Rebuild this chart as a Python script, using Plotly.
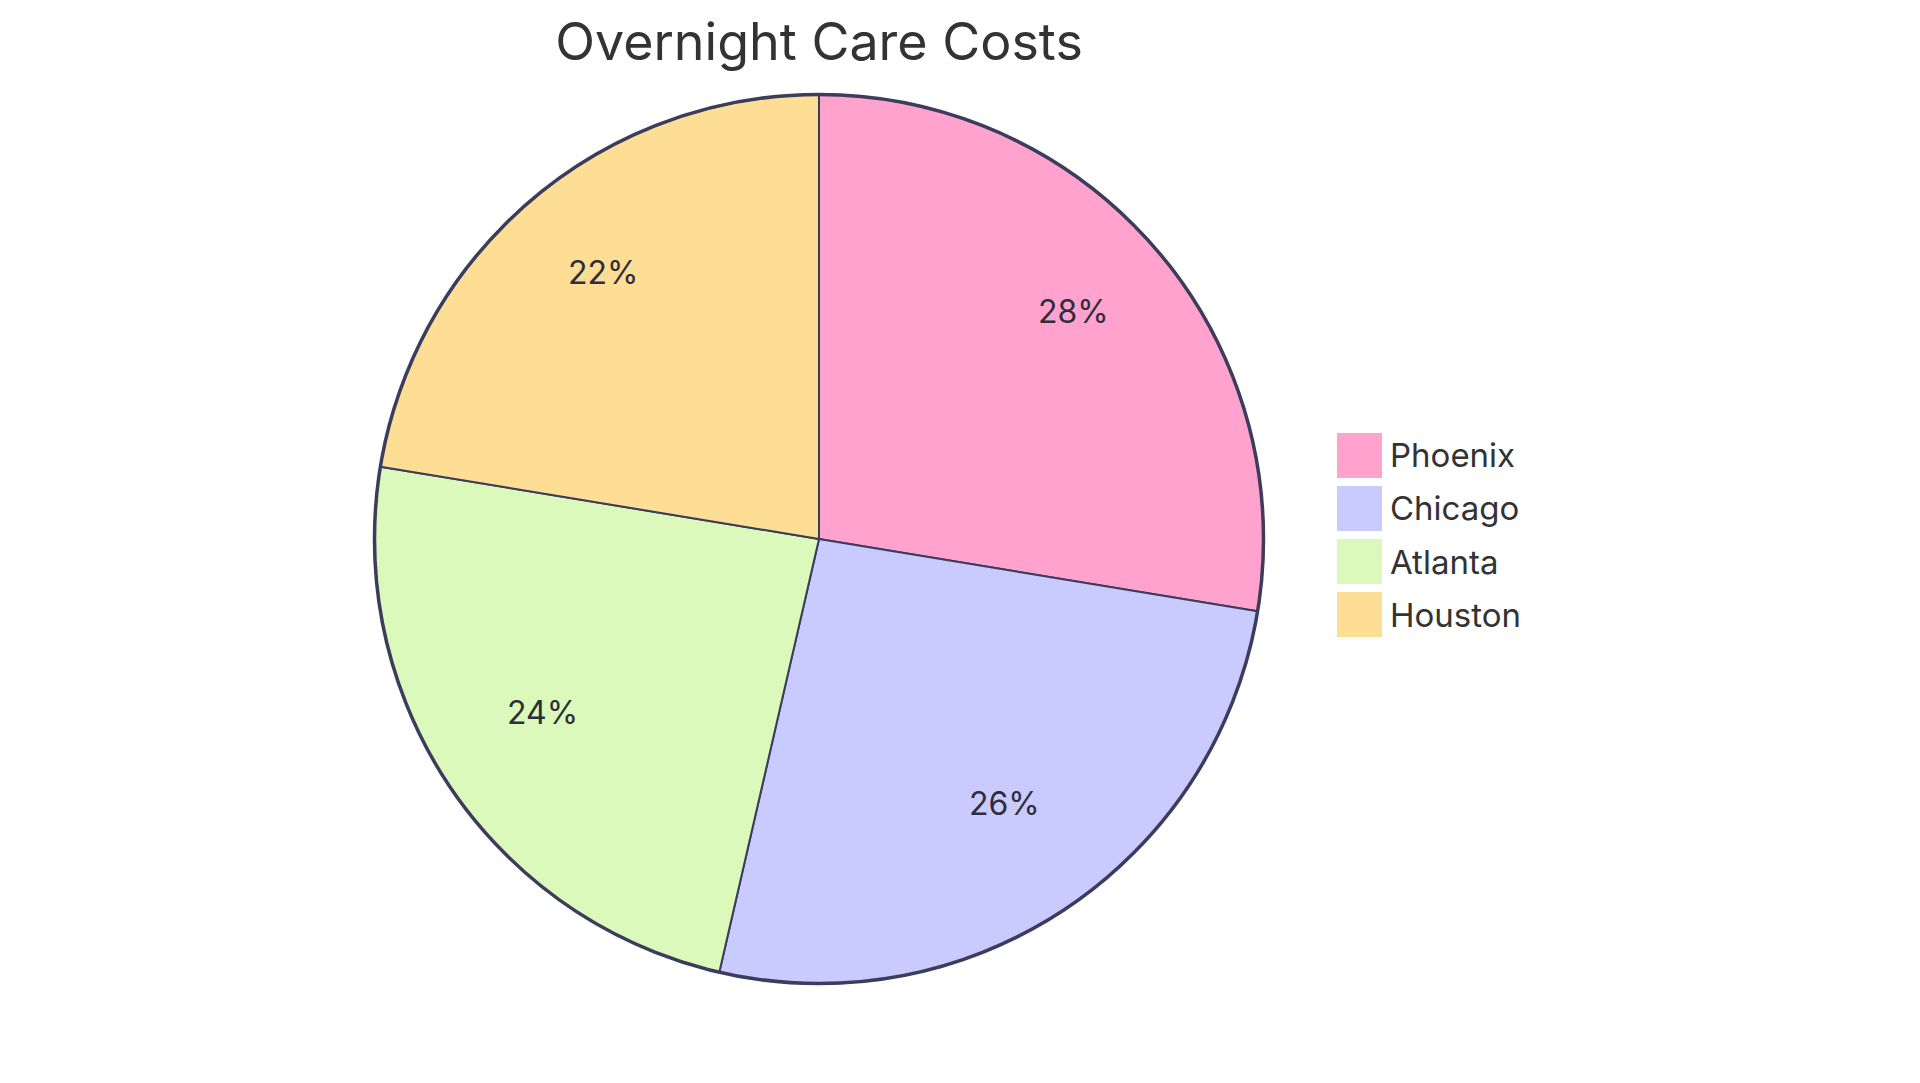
import math
import plotly.graph_objects as go

# ---- data ----
cities = ["Phoenix", "Chicago", "Atlanta", "Houston"]
costs = [1380, 1300, 1200, 1120]
colors = ["#FFA3CE", "#C9CBFF", "#DAF9BA", "#FEDD95"]
title_text = "Overnight Care Costs"

# ---- layout geometry (pixels, page coords minus body margin) ----
W, H = 1920, 1083
OFF = 8
cx, cy, R = 819 - OFF, 539 - OFF, 444.5
FONT = "Inter, Noto Sans, sans-serif"
EDGE = "#3C3C5C"

fig = go.Figure()
fig.add_trace(go.Pie(
    labels=cities,
    values=costs,
    sort=False,
    direction="clockwise",
    rotation=0,
    marker=dict(colors=colors, line=dict(color=EDGE, width=2)),
    textinfo="none",
    hoverinfo="label+value+percent",
    showlegend=False,
    domain=dict(x=[(cx - R) / W, (cx + R) / W], y=[1 - (cy + R) / H, 1 - (cy - R) / H]),
))

# outer rim
fig.add_shape(type="circle", xref="paper", yref="paper",
              x0=(cx - R) / W, x1=(cx + R) / W,
              y0=1 - (cy + R) / H, y1=1 - (cy - R) / H,
              line=dict(color=EDGE, width=3.5), fillcolor="rgba(0,0,0,0)")

# slice percentage labels at 0.75 R
total = sum(costs)
cum = 0
for v in costs:
    mid = (cum + v / 2) / total * 2 * math.pi
    cum += v
    px = cx + 0.75 * R * math.sin(mid)
    py = cy - 0.75 * R * math.cos(mid) - 12
    fig.add_annotation(x=px / W, y=1 - py / H, xref="paper", yref="paper",
                       text=f"{round(v / total * 100)}%", showarrow=False,
                       xanchor="center", yanchor="middle",
                       font=dict(family=FONT, size=32, color="#2E2E3A"))

# legend (drawn manually: large squares)
lx0, sq, top0, step = 1337 - OFF, 45, 433 - OFF, 53
for i, (name, col) in enumerate(zip(cities, colors)):
    t = top0 + i * step
    fig.add_shape(type="rect", xref="paper", yref="paper",
                  x0=lx0 / W, x1=(lx0 + sq) / W,
                  y0=1 - (t + sq) / H, y1=1 - t / H,
                  line=dict(width=0), fillcolor=col)
    fig.add_annotation(x=(1388 - OFF) / W, y=1 - (t + sq / 2) / H, xref="paper", yref="paper",
                       text=name, showarrow=False, xanchor="left", yanchor="middle",
                       font=dict(family=FONT, size=33, color="#333333"))

fig.update_layout(
    width=W, height=H,
    margin=dict(l=0, r=0, t=0, b=0),
    paper_bgcolor="white", plot_bgcolor="white",
    title=dict(text=title_text, x=cx / W, xanchor="center", y=1 - (42 - OFF) / H, yanchor="middle",
               font=dict(family=FONT, size=52, color="#333333")),
)

fig.write_html("out.html")
